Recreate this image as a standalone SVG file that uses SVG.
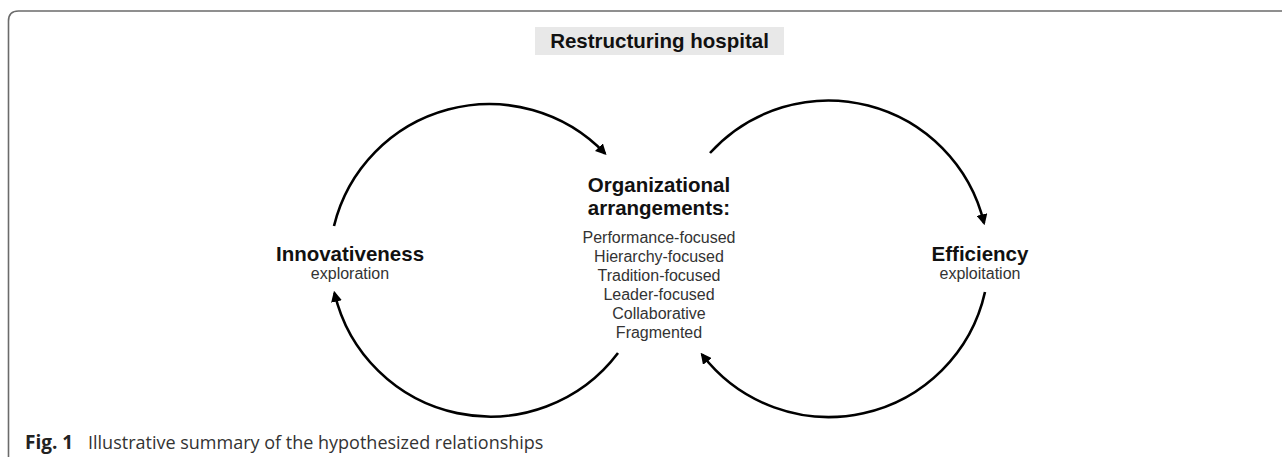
<svg xmlns="http://www.w3.org/2000/svg" width="1282" height="457" viewBox="0 0 1282 457">
<style>
.frame{fill:none;stroke:#6b6b6b;stroke-width:1.6}
.arc{fill:none;stroke:#000;stroke-width:2.6}
.h{font-family:"Liberation Sans",Arial,sans-serif;font-weight:bold;fill:#111;text-anchor:middle;font-size:20.5px}
.s{font-family:"Liberation Sans",Arial,sans-serif;fill:#333;text-anchor:middle;font-size:16px}
.cap{font-family:"Open Sans","Noto Sans",sans-serif;fill:#333;font-size:18px}
</style>
<defs>
<marker id="ah" viewBox="0 0 10 10" refX="8" refY="5" markerWidth="11" markerHeight="11" markerUnits="userSpaceOnUse" orient="auto">
<path d="M0,0 L10,5 L0,10 z" fill="#000"/>
</marker>
</defs>
<path class="frame" d="M8.5,457 V21 Q8.5,11 18.5,11 H1282"/>
<g id="title">
<rect x="535" y="27" width="249" height="28" fill="#e8e8e8"/>
<text class="h" x="659.5" y="48">Restructuring hospital</text>
</g>
<g id="connectors">
<path class="arc" d="M334,226 A160,160 0 0 1 605,153.5" marker-end="url(#ah)"/>
<path class="arc" d="M618,353 A160,160 0 0 1 334.5,293" marker-end="url(#ah)"/>
<path class="arc" d="M710,153 A160,160 0 0 1 984,223" marker-end="url(#ah)"/>
<path class="arc" d="M985,292 A160,160 0 0 1 702,354.5" marker-end="url(#ah)"/>
</g>
<g id="innovativeness">
<text class="h" x="350" y="261">Innovativeness</text>
<text class="s" x="350" y="279">exploration</text>
</g>
<g id="efficiency">
<text class="h" x="980" y="261">Efficiency</text>
<text class="s" x="980" y="279">exploitation</text>
</g>
<g id="arrangements">
<text class="h" x="659" y="192">Organizational</text>
<text class="h" x="659" y="214.5">arrangements:</text>
<text class="s" x="659" y="243">Performance-focused</text>
<text class="s" x="659" y="262">Hierarchy-focused</text>
<text class="s" x="659" y="281">Tradition-focused</text>
<text class="s" x="659" y="300">Leader-focused</text>
<text class="s" x="659" y="319">Collaborative</text>
<text class="s" x="659" y="337.5">Fragmented</text>
</g>
<g id="caption">
<text class="cap" x="25" y="449"><tspan font-weight="bold" fill="#222" font-size="19">Fig. 1</tspan><tspan x="88">Illustrative summary of the hypothesized relationships</tspan></text>
</g>
</svg>
